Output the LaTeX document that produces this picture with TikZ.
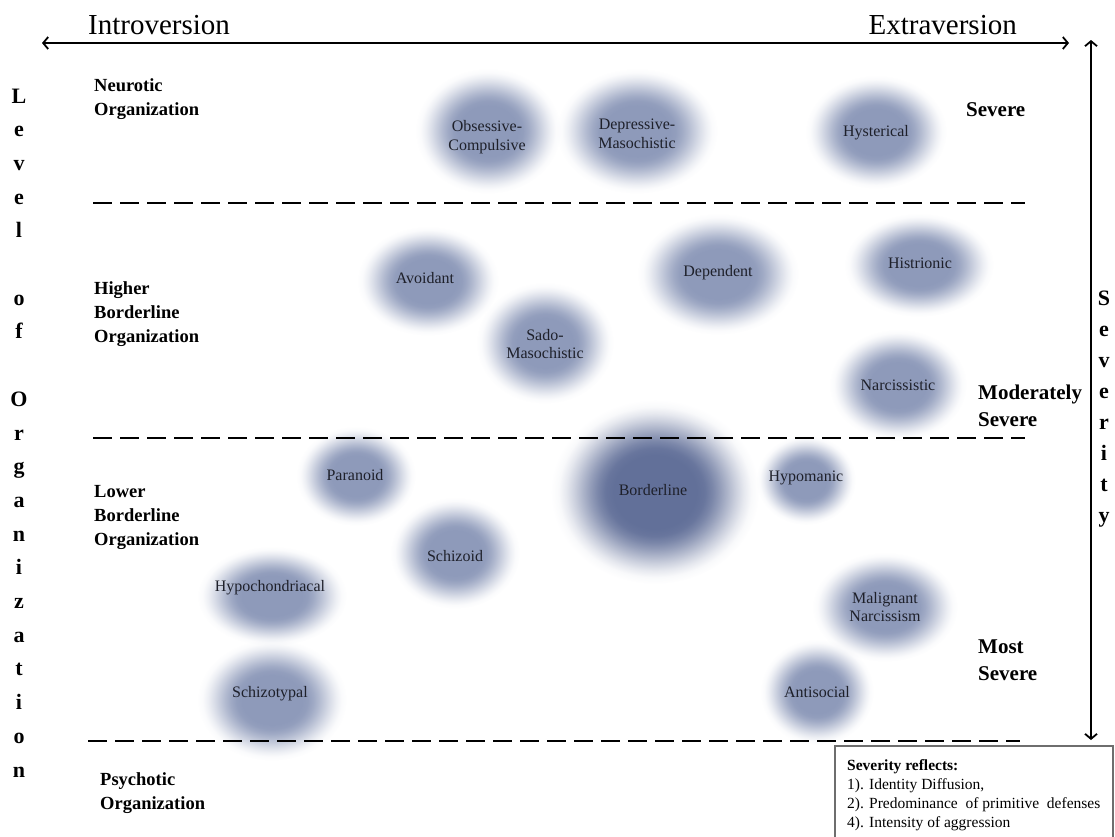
\documentclass[tikz,border=0pt]{standalone}
\usepackage{fontspec}
\setmainfont{Liberation Serif}
\usetikzlibrary{arrows.meta,fadings}

% soft-edged disc: opaque core, smooth (smoothstep) fall-off to the rim
\pgfdeclareradialshading{softblobshade}{\pgfpointorigin}{%
  color(0bp)=(pgftransparent!0); color(10bp)=(pgftransparent!0);
  color(11.9bp)=(pgftransparent!4); color(13.75bp)=(pgftransparent!16);
  color(15.6bp)=(pgftransparent!32); color(17.5bp)=(pgftransparent!50);
  color(19.4bp)=(pgftransparent!68); color(21.25bp)=(pgftransparent!84);
  color(23.1bp)=(pgftransparent!96); color(25bp)=(pgftransparent!100);
  color(50bp)=(pgftransparent!100)}
\pgfdeclarefading{softblob}{\pgfuseshading{softblobshade}}

\definecolor{blobc}{RGB}{142,154,186}
\definecolor{blobdark}{RGB}{98,112,153}
\definecolor{labelc}{RGB}{30,32,42}
\definecolor{framec}{RGB}{110,110,110}

\tikzset{
  blob/.style={fill=blobc, path fading=softblob},
  darkblob/.style={fill=blobdark, path fading=softblob},
  blobtext/.style={font=\fontsize{16}{18.5}\selectfont, text=labelc, align=center, inner sep=0pt},
  axisline/.style={line width=1.8pt, {Straight Barb[length=5pt,width=12pt]}-{Straight Barb[length=5pt,width=12pt]}},
  levelline/.style={line width=2.6pt, dash pattern=on 19pt off 8pt},
  axistitle/.style={font=\fontsize{29}{30}\selectfont, inner sep=0pt},
  orglabel/.style={font=\bfseries\fontsize{18.5}{24}\selectfont, align=left, inner sep=0pt, anchor=west},
  sevlabel/.style={font=\bfseries\fontsize{21}{27}\selectfont, align=left, inner sep=0pt, anchor=west},
  stackletter/.style={font=\bfseries\fontsize{22}{24}\selectfont, inner sep=0pt, anchor=base},
}

\begin{document}
\begin{tikzpicture}[x=1pt,y=-1pt]
\useasboundingbox (0,0) rectangle (1115,836);

% ---- soft clusters ----
\fill[blob] (488,131) ellipse [x radius=73pt, y radius=63pt];
\fill[blob] (637,131) ellipse [x radius=81pt, y radius=63pt];
\fill[blob] (876,132) ellipse [x radius=71pt, y radius=57pt];
\fill[blob] (428,281) ellipse [x radius=71pt, y radius=55pt];
\fill[blob] (545,343) ellipse [x radius=69pt, y radius=61pt];
\fill[blob] (718,274) ellipse [x radius=81pt, y radius=61pt];
\fill[blob] (919,265) ellipse [x radius=75pt, y radius=52pt];
\fill[blob] (898,385) ellipse [x radius=69pt, y radius=56pt];
\fill[darkblob] (655,492) ellipse [x radius=104pt, y radius=92pt];
\fill[blob] (806,480) ellipse [x radius=50pt, y radius=45pt];
\fill[blob] (356,476) ellipse [x radius=60pt, y radius=50pt];
\fill[blob] (455,553) ellipse [x radius=65pt, y radius=56pt];
\fill[blob] (272,596) ellipse [x radius=75pt, y radius=50pt];
\fill[blob] (272,700) ellipse [x radius=75pt, y radius=61pt];
\fill[blob] (885,607) ellipse [x radius=73pt, y radius=55pt];
\fill[blob] (817,692) ellipse [x radius=57pt, y radius=53pt];

% ---- cluster names ----
\node[blobtext] (obs)  at (487,137) {Obsessive-\\Compulsive};
\node[blobtext] (dep1) at (637,134) {Depressive-\\Masochistic};
\node[blobtext] (hys)  at (876,133) {Hysterical};
\node[blobtext] (avo)  at (425,278) {Avoidant};
\node[blobtext] (sado) at (545,344) {Sado-\\Masochistic};
\node[blobtext] (dep2) at (718,273) {Dependent};
\node[blobtext] (his)  at (920,263) {Histrionic};
\node[blobtext] (nar)  at (898,385) {Narcissistic};
\node[blobtext] (bor)  at (653,490) {Borderline};
\node[blobtext] (hypo) at (806,478) {Hypomanic};
\node[blobtext] (par)  at (355,475) {Paranoid};
\node[blobtext] (szd)  at (455,556) {Schizoid};
\node[blobtext] (hyc)  at (270,588) {Hypochondriacal};
\node[blobtext] (szt)  at (270,694) {Schizotypal};
\node[blobtext] (mal)  at (885,607) {Malignant\\Narcissism};
\node[blobtext] (anti) at (817,692) {Antisocial};

% ---- axes ----
\coordinate (intro) at (42,43);
\coordinate (extra) at (1069,43);
\draw[axisline] (intro) -- (extra);
\node[axistitle, anchor=base west] (introT) at (88,34) {Introversion};
\node[axistitle, anchor=base east] (extraT) at (1017,34) {Extraversion};

\coordinate (sevtop) at (1091,40);
\coordinate (sevbot) at (1091,740);
\draw[axisline] (sevbot) -- (sevtop);

% ---- level boundaries ----
\coordinate (l1a) at (93,203);  \coordinate (l1b) at (1025,203);
\coordinate (l2a) at (93,438);  \coordinate (l2b) at (1025,438);
\coordinate (l3a) at (88,741);  \coordinate (l3b) at (1020,741);
\draw[levelline] (l1a) -- (l1b);
\draw[levelline] (l2a) -- (l2b);
\draw[levelline] (l3a) -- (l3b);

% ---- organisation levels ----
\node[orglabel] (neu) at (94,99)  {Neurotic\\Organization};
\node[orglabel] (hbo) at (94,314) {Higher\\Borderline\\Organization};
\node[orglabel] (lbo) at (94,517) {Lower\\Borderline\\Organization};
\node[orglabel] (psy) at (100,793) {Psychotic\\Organization};

% ---- severity grades ----
\node[sevlabel] (sv1) at (966,110) {Severe};
\node[sevlabel] (sv2) at (978,406) {Moderately\\Severe};
\node[sevlabel] (sv3) at (978,660) {Most\\Severe};

% ---- vertical captions ----
\foreach \ch [count=\i from 0] in {L,e,v,e,l,{},o,f,{},O,r,g,a,n,i,z,a,t,i,o,n}
  \node[stackletter] (lev\i) at (19,{103+33.7*\i}) {\ch};
\foreach \ch [count=\i from 0] in {S,e,v,e,r,i,t,y}
  \node[stackletter] (sev\i) at (1104,{305+31*\i}) {\ch};

% ---- note box ----
\draw[framec, line width=1.2pt] (835,837) -- (835,746) -- (1113,746) -- (1113,837);
\node[anchor=north west, inner sep=0pt, align=left,
      font=\fontsize{15.5}{19}\selectfont] (note) at (847,759)
  {\textbf{Severity reflects:}\\
   1). Identity Diffusion,\\
   2). Predominance\ \ of primitive\ \ defenses\\
   4). Intensity of aggression};
\end{tikzpicture}
\end{document}
